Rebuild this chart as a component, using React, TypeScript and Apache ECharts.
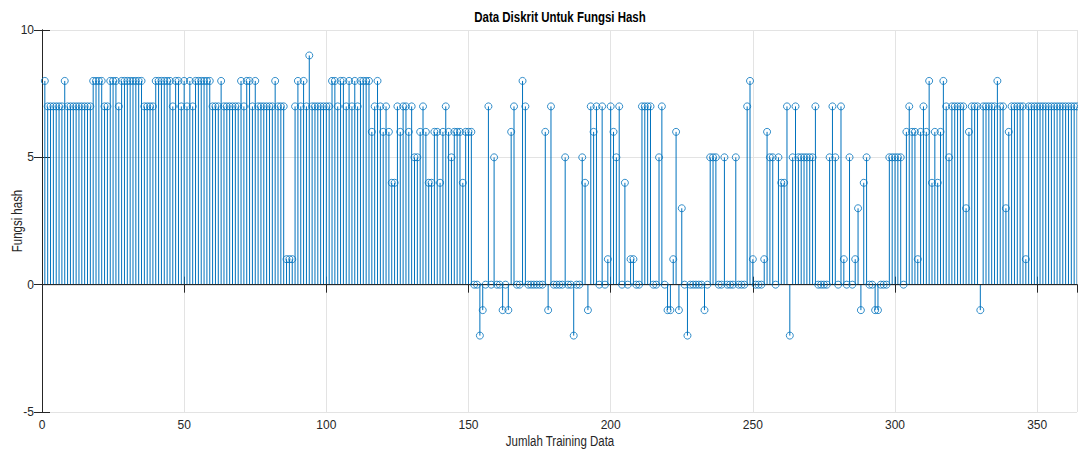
import React, { useEffect, useRef } from "react";
import * as echarts from "echarts";

const chartTitle = "Data Diskrit Untuk Fungsi Hash";
const xAxisName = "Jumlah Training Data";
const yAxisName = "Fungsi hash";

// Hash value per training sample (sample 1 .. N)
const hashValues: number[] = [
  8, 7, 7, 7, 7, 7, 7, 8, 7, 7, 7, 7, 7, 7, 7, 7, 7, 8, 8, 8,
  8, 7, 7, 8, 8, 8, 7, 8, 8, 8, 8, 8, 8, 8, 8, 7, 7, 7, 7, 8,
  8, 8, 8, 8, 8, 7, 8, 8, 7, 8, 7, 8, 7, 8, 8, 8, 8, 8, 8, 7,
  7, 7, 8, 7, 7, 7, 7, 7, 7, 8, 7, 8, 8, 7, 8, 7, 7, 7, 7, 7,
  7, 8, 7, 7, 7, 1, 1, 1, 7, 8, 7, 8, 7, 9, 7, 7, 7, 7, 7, 7,
  7, 8, 8, 7, 8, 8, 7, 8, 7, 8, 7, 8, 8, 8, 8, 6, 7, 8, 7, 6,
  7, 6, 4, 4, 7, 6, 7, 7, 6, 7, 5, 5, 6, 7, 6, 4, 4, 6, 6, 4,
  6, 7, 6, 5, 6, 6, 6, 4, 6, 6, 6, 0, 0, -2, -1, 0, 7, 0, 5, 0,
  0, -1, 0, -1, 6, 7, 0, 0, 8, 7, 0, 0, 0, 0, 0, 0, 6, -1, 7, 0,
  0, 0, 0, 5, 0, 0, -2, 0, 0, 5, 4, -1, 7, 6, 7, 0, 7, 0, 1, 7,
  6, 5, 7, 0, 4, 0, 1, 1, 0, 0, 7, 7, 7, 7, 0, 0, 5, 7, 0, -1,
  -1, 1, 6, -1, 3, 0, -2, 0, 0, 0, 0, 0, -1, 0, 5, 5, 5, 0, 0, 5,
  0, 0, 0, 5, 0, 0, 0, 7, 8, 1, 0, 0, 0, 1, 6, 5, 5, 0, 5, 4,
  4, 7, -2, 5, 7, 5, 5, 5, 5, 5, 5, 7, 0, 0, 0, 0, 5, 7, 5, 0,
  7, 1, 0, 5, 0, 1, 3, -1, 4, 5, 0, 0, -1, -1, 0, 0, 0, 5, 5, 5,
  5, 5, 0, 6, 7, 6, 6, 1, 6, 7, 6, 8, 4, 6, 4, 6, 8, 7, 5, 7,
  7, 7, 7, 7, 3, 6, 7, 7, 7, -1, 7, 7, 7, 7, 7, 8, 7, 7, 3, 6,
  7, 7, 7, 7, 7, 1, 7, 7, 7, 7, 7, 7, 7, 7, 7, 7, 7, 7, 7, 7,
  7, 7, 7, 7,
];

const xMin = 0;
const xMax = 364;
const xInterval = 50;
const yMin = -5;
const yMax = 10;
const yInterval = 5;

const stemColor = "#0072BD";
const axisColor = "#262626";
const gridColor = "#e3e3e3";
const fontFamily = '"Liberation Sans", Arial, Helvetica, sans-serif';

export default function App() {
  const ref = useRef<HTMLDivElement>(null);

  useEffect(() => {
    if (!ref.current) return;
    const chart = echarts.init(ref.current, undefined, { renderer: "svg" });

    const points = hashValues.map((v, i) => [i + 1, v]);

    const common = {
      axisLine: { show: true, lineStyle: { color: axisColor, width: 1 } },
      axisTick: { show: true, inside: true, length: 8, lineStyle: { color: axisColor } },
    };

    chart.setOption({
      animation: false,
      backgroundColor: "#ffffff",
      graphic: [
        {
          type: "text",
          x: 560,
          y: 17,
          scaleX: 0.82,
          style: {
            text: chartTitle,
            fontFamily,
            fontSize: 14,
            fontWeight: "bold",
            fill: "#000",
            align: "center",
            verticalAlign: "middle",
          },
        },
        {
          type: "text",
          x: 560,
          y: 441,
          scaleX: 0.82,
          style: {
            text: xAxisName,
            fontFamily,
            fontSize: 14,
            fill: axisColor,
            align: "center",
            verticalAlign: "middle",
          },
        },
        {
          type: "text",
          x: 17,
          y: 221,
          rotation: Math.PI / 2,
          scaleX: 0.82,
          style: {
            text: yAxisName,
            fontFamily,
            fontSize: 14,
            fill: axisColor,
            align: "center",
            verticalAlign: "middle",
          },
        },
      ],
      grid: { left: 42, right: 1, top: 30, bottom: 39, containLabel: false, outerBoundsMode: "none" },
      xAxis: [
        {
          type: "value",
          min: xMin,
          max: xMax,
          interval: xInterval,
          position: "bottom",
          ...common,
          axisLabel: {
            color: axisColor,
            fontFamily,
            fontSize: 12,
            margin: 7,
            showMaxLabel: false,
          },
          splitLine: { show: true, lineStyle: { color: gridColor, width: 1 } },
        },
        {
          type: "value",
          min: xMin,
          max: xMax,
          interval: xInterval,
          position: "top",
          ...common,
          axisLabel: { show: false },
          splitLine: { show: false },
        },
      ],
      yAxis: [
        {
          type: "value",
          min: yMin,
          max: yMax,
          interval: yInterval,
          position: "left",
          ...common,
          axisLabel: { color: axisColor, fontFamily, fontSize: 12, margin: 8 },
          splitLine: { show: true, lineStyle: { color: gridColor, width: 1 } },
        },
        {
          type: "value",
          min: yMin,
          max: yMax,
          interval: yInterval,
          position: "right",
          ...common,
          axisLabel: { show: false },
          splitLine: { show: false },
        },
      ],
      series: [
        {
          type: "custom",
          name: "stems",
          clip: true,
          data: points,
          renderItem: (params: any, api: any) => {
            const x = api.value(0);
            const y = api.value(1);
            const p0 = api.coord([x, 0]);
            const p1 = api.coord([x, y]);
            return {
              type: "line",
              shape: { x1: p0[0], y1: p0[1], x2: p1[0], y2: p1[1] },
              style: { stroke: stemColor, lineWidth: 1 },
            };
          },
          z: 2,
        },
        {
          type: "line",
          name: "baseline",
          data: [
            [xMin, 0],
            [xMax, 0],
          ],
          symbol: "none",
          lineStyle: { color: axisColor, width: 1 },
          z: 3,
        },
        {
          type: "scatter",
          name: "markers",
          data: points,
          symbol: "circle",
          symbolSize: 7,
          itemStyle: { color: "rgba(0,0,0,0)", borderColor: stemColor, borderWidth: 1 },
          clip: true,
          z: 4,
        },
      ],
    });

    return () => chart.dispose();
  }, []);

  return (
    <div
      ref={ref}
      style={{ position: "fixed", left: 0, top: 0, width: 1078, height: 451, background: "#fff" }}
    />
  );
}
